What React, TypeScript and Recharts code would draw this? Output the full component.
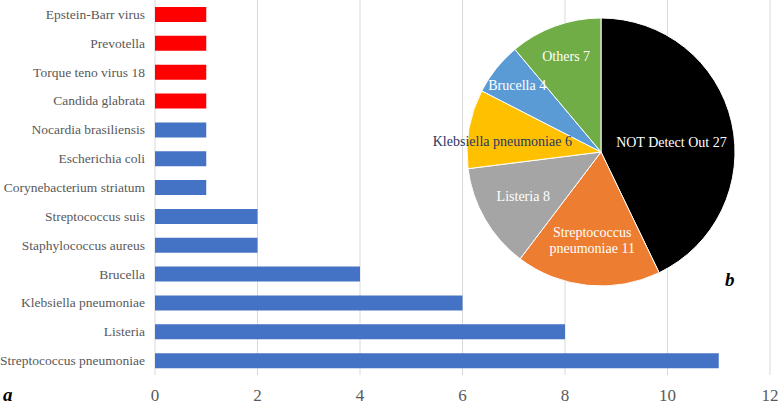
import { BarChart, Bar, Cell, XAxis, YAxis, CartesianGrid, PieChart, Pie } from 'recharts';

const categories = [
  'Epstein-Barr virus',
  'Prevotella',
  'Torque teno virus 18',
  'Candida glabrata',
  'Nocardia brasiliensis',
  'Escherichia coli',
  'Corynebacterium striatum',
  'Streptococcus suis',
  'Staphylococcus aureus',
  'Brucella',
  'Klebsiella pneumoniae',
  'Listeria',
  'Streptococcus pneumoniae',
];
const counts = [1, 1, 1, 1, 1, 1, 1, 2, 2, 4, 6, 8, 11];
const barColors = ['#FF0000', '#FF0000', '#FF0000', '#FF0000', '#4472C4', '#4472C4', '#4472C4', '#4472C4', '#4472C4', '#4472C4', '#4472C4', '#4472C4', '#4472C4'];
const xTicks = [0, 2, 4, 6, 8, 10, 12];

const pieNames = ['NOT Detect Out', 'Streptococcus pneumoniae', 'Listeria', 'Klebsiella pneumoniae', 'Brucella', 'Others'];
const pieValues = [27, 11, 8, 6, 4, 7];
const pieColors = ['#000000', '#ED7D31', '#A5A5A5', '#FFC000', '#5B9BD5', '#70AD47'];

const barData = categories.map((name, i) => ({ name, value: counts[i] }));
const pieData = pieNames.map((name, i) => ({ name, value: pieValues[i] }));

const FONT = '"Liberation Serif", "Times New Roman", serif';
const RAD = Math.PI / 180;
// label placement like excel's "best fit": share of radius + small angle nudge
const labelRadius = [0.53, 0.66, 0.67, 0.74, 0.8, 0.76];
const labelShift = [-5.5, 0, 0, 4.2, 0, 0];

const CategoryTick = (props: any) => {
  const { x, y, payload } = props;
  return (
    <text x={x} y={y} fill="#595959" fontSize={13.5} fontFamily={FONT} textAnchor="end" dominantBaseline="central">
      {payload.value}
    </text>
  );
};

const ValueTick = (props: any) => {
  const { x, y, payload } = props;
  return (
    <text x={x} y={y} dy={26} fill="#595959" fontSize={17} fontFamily={FONT} textAnchor="middle">
      {payload.value}
    </text>
  );
};

const renderPieLabel = (props: any) => {
  const { cx, cy, midAngle, outerRadius, index, name, value } = props;
  const r = outerRadius * labelRadius[index];
  const a = midAngle + labelShift[index];
  const x = cx + r * Math.cos(-a * RAD);
  const y = cy + r * Math.sin(-a * RAD);
  const fill = index === 3 ? '#1F3864' : '#FFFFFF';
  if (name === 'Streptococcus pneumoniae') {
    return (
      <text x={x} y={y} fill={fill} fontSize={14} fontFamily={FONT} textAnchor="middle">
        <tspan x={x} dy="-0.2em">Streptococcus</tspan>
        <tspan x={x} dy="1.15em">pneumoniae {value}</tspan>
      </text>
    );
  }
  return (
    <text x={x} y={y} fill={fill} fontSize={14} fontFamily={FONT} textAnchor="middle" dominantBaseline="central">
      {name} {value}
    </text>
  );
};

const App = () => {
  return (
    <div style={{ position: 'fixed', left: 0, top: 0, width: 778, height: 405, background: '#fff', overflow: 'hidden' }}>
      <BarChart
        width={778}
        height={405}
        data={barData}
        layout="vertical"
        margin={{ top: 0, right: 8, bottom: 0, left: 0 }}
        barSize={15}
      >
        <CartesianGrid horizontal={false} stroke="#D9D9D9" />
        <XAxis
          type="number"
          domain={[0, 12]}
          ticks={xTicks}
          axisLine={false}
          tickLine={false}
          height={30}
          tickSize={0}
          tickMargin={0}
          tick={<ValueTick />}
        />
        <YAxis
          type="category"
          dataKey="name"
          width={155}
          axisLine={false}
          tickLine={false}
          tickSize={0}
          tickMargin={10}
          interval={0}
          tick={<CategoryTick />}
        />
        <Bar dataKey="value" isAnimationActive={false}>
          {barData.map((d, i) => (
            <Cell key={d.name} fill={barColors[i]} />
          ))}
        </Bar>
      </BarChart>
      <div style={{ position: 'absolute', left: 401, top: 2, width: 400, height: 300 }}>
        <PieChart width={400} height={300} margin={{ top: 0, right: 0, bottom: 0, left: 0 }}>
          <Pie
            data={pieData}
            dataKey="value"
            nameKey="name"
            cx={200}
            cy={150}
            outerRadius={134}
            startAngle={90}
            endAngle={-270}
            stroke="#FFFFFF"
            strokeWidth={1}
            labelLine={false}
            label={renderPieLabel}
            isAnimationActive={false}
          >
            {pieData.map((d, i) => (
              <Cell key={d.name} fill={pieColors[i]} />
            ))}
          </Pie>
        </PieChart>
      </div>
      <div style={{ position: 'absolute', left: 3, top: 385, fontFamily: FONT, fontSize: 19, fontWeight: 'bold', fontStyle: 'italic', lineHeight: '20px' }}>a</div>
      <div style={{ position: 'absolute', left: 725, top: 270, fontFamily: FONT, fontSize: 19, fontWeight: 'bold', fontStyle: 'italic', lineHeight: '20px' }}>b</div>
    </div>
  );
};

export default App;
